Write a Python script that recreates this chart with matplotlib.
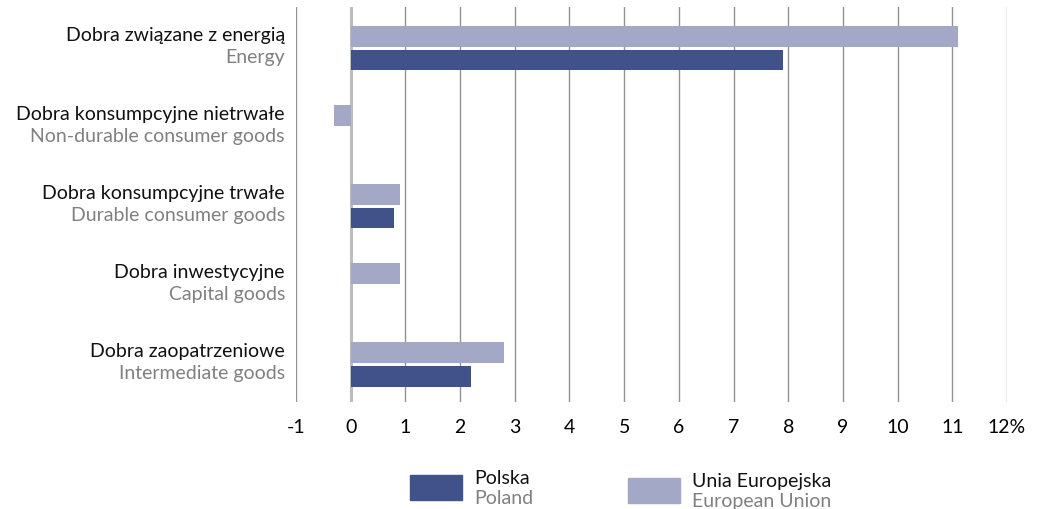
import matplotlib
matplotlib.use("Agg")
import matplotlib.pyplot as plt
import matplotlib.transforms as mtransforms
from matplotlib.patches import Rectangle

plt.rcParams['font.family'] = ['Lato', 'DejaVu Sans']

categories_pl = ["Dobra związane z energią", "Dobra konsumpcyjne nietrwałe",
                 "Dobra konsumpcyjne trwałe", "Dobra inwestycyjne", "Dobra zaopatrzeniowe"]
categories_en = ["Energy", "Non-durable consumer goods", "Durable consumer goods",
                 "Capital goods", "Intermediate goods"]
eu_values = [11.1, -0.3, 0.9, 0.9, 2.8]
pl_values = [7.9, 0.0, 0.8, 0.0, 2.2]
xticks = list(range(-1, 13))
xticklabels = [str(t) for t in xticks[:-1]] + ["12%"]

C_PL = "#41518a"
C_EU = "#a2a8c6"
FS = 14

fig = plt.figure(figsize=(10.37, 5.09), dpi=100)
ax = fig.add_axes([296/1037, 1 - 402/509, (1007-296)/1037, 395/509])

ypos = list(range(len(categories_pl)))
h = 0.26
ax.barh([y - 0.155 for y in ypos], eu_values, height=h, color=C_EU, zorder=3)
ax.barh([y + 0.145 for y in ypos], pl_values, height=h, color=C_PL, zorder=3)

ax.set_xlim(-1, 12)
ax.set_ylim(4.47, -0.525)
ax.set_xticks(xticks)
ax.set_xticklabels(xticklabels, fontsize=FS)
ax.set_yticks([])
ax.tick_params(axis='x', length=0, pad=12)
for s in ax.spines.values():
    s.set_visible(False)
for t in xticks:
    if t == 0:
        ax.axvline(t, color="#bdbdbd", lw=2.2, zorder=2)
    else:
        ax.axvline(t, color="#939393", lw=1.0, zorder=2)

trans = mtransforms.blended_transform_factory(ax.transAxes, ax.transData)
for y, lp, le in zip(ypos, categories_pl, categories_en):
    ax.text(-11/711, y - 0.17, lp, transform=trans, ha='right', va='center',
            fontsize=FS, color="#111111")
    ax.text(-11/711, y + 0.115, le, transform=trans, ha='right', va='center',
            fontsize=FS, color="#808080")

def px(x, y):
    return x/1037, 1 - y/509

fig.patches.append(Rectangle(px(410, 500), 52/1037, 25/509, transform=fig.transFigure,
                             color=C_PL, figure=fig))
fig.patches.append(Rectangle(px(628, 503), 52/1037, 25/509, transform=fig.transFigure,
                             color=C_EU, figure=fig))
fig.text(*px(474, 478), "Polska", fontsize=FS, color="#111111", va='center', ha='left')
fig.text(*px(474, 498), "Poland", fontsize=FS, color="#808080", va='center', ha='left')
fig.text(*px(692, 482), "Unia Europejska", fontsize=FS, color="#111111", va='center', ha='left')
fig.text(*px(692, 501), "European Union", fontsize=FS, color="#808080", va='center', ha='left')

fig.savefig("out.png", dpi=100)
